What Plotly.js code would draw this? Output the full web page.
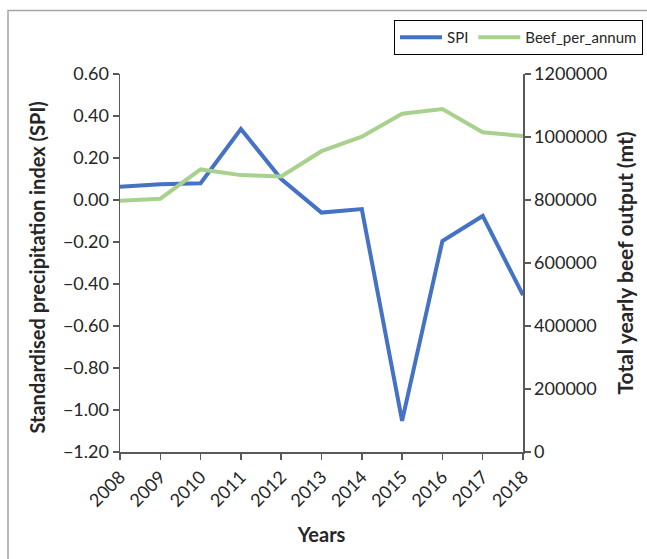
<!DOCTYPE html>
<html>
<head>
<meta charset="utf-8">
<script src="https://cdn.plot.ly/plotly-3.0.1.min.js"></script>
<style>
  html, body { margin: 0; padding: 0; background: #fff; }
  #chart { width: 647px; height: 559px; }
</style>
</head>
<body>
<div id="chart"></div>
<script>
const years = [2008, 2009, 2010, 2011, 2012, 2013, 2014, 2015, 2016, 2017, 2018];
const spi = [0.063, 0.075, 0.08, 0.338, 0.10, -0.06, -0.043, -1.052, -0.195, -0.076, -0.453];
const beefPerAnnum = [798000, 804000, 897000, 879000, 875000, 955000, 1001000, 1074000, 1089000, 1015000, 1003000];
const spiTicks = [0.6, 0.4, 0.2, 0, -0.2, -0.4, -0.6, -0.8, -1.0, -1.2];
const beefTicks = [0, 200000, 400000, 600000, 800000, 1000000, 1200000];

const FONT = 'Lato, "Open Sans", sans-serif';
const AX = '#595959';
const TXT = '#262626';

const traces = [
  {
    x: years, y: spi, name: 'SPI', type: 'scatter', mode: 'lines',
    line: { color: '#4472C4', width: 4 }, yaxis: 'y', cliponaxis: true
  },
  {
    x: years, y: beefPerAnnum, name: 'Beef_per_annum', type: 'scatter', mode: 'lines',
    line: { color: '#A9D18E', width: 4 }, yaxis: 'y2', cliponaxis: true
  }
];

const L = 120, R = 124, T = 74, B = 107;
const W = 647 - L - R, H = 559 - T - B;
const px = v => (v - L) / W;
const py = v => (559 - B - v) / H;

const layout = {
  width: 647, height: 559,
  margin: { l: L, r: R, t: T, b: B },
  paper_bgcolor: '#fff', plot_bgcolor: '#fff',
  font: { family: FONT, color: TXT, size: 18 },
  showlegend: true,
  legend: {
    orientation: 'h', xref: 'container', yref: 'container',
    x: 643 / 647, y: 1 - 20 / 559, xanchor: 'right', yanchor: 'top',
    bordercolor: '#000', borderwidth: 1, bgcolor: '#fff', itemwidth: 42,
    font: { family: FONT, size: 15, color: TXT }, traceorder: 'normal'
  },
  xaxis: {
    range: [2008, 2018], tickmode: 'array', tickvals: years, ticktext: years.map(String),
    tickangle: -45, ticks: 'outside', ticklen: 6, tickcolor: AX, tickwidth: 1.5,
    showline: true, linecolor: AX, linewidth: 1.5, showgrid: false, zeroline: false,
    tickfont: { family: FONT, size: 18, color: TXT },
    title: { text: '<b>Years</b>', font: { family: FONT, size: 20, color: TXT }, standoff: 18 }
  },
  yaxis: {
    range: [-1.2, 0.6], tickmode: 'array', tickvals: spiTicks, tickformat: '.2f',
    ticks: 'outside', ticklen: 6, tickcolor: AX, tickwidth: 1.5,
    showline: true, linecolor: AX, linewidth: 1.5, showgrid: false, zeroline: false,
    tickfont: { family: FONT, size: 18, color: TXT }
  },
  yaxis2: {
    overlaying: 'y', side: 'right', range: [0, 1200000], tickmode: 'array', tickvals: beefTicks, tickformat: 'd',
    ticks: 'outside', ticklen: 6, tickcolor: AX, tickwidth: 1.5,
    showline: true, linecolor: AX, linewidth: 1.5, showgrid: false, zeroline: false,
    tickfont: { family: FONT, size: 18, color: TXT },
    title: { text: '<b>Total yearly beef output (mt)</b>', font: { family: FONT, size: 21, color: TXT }, standoff: 12 }
  },
  annotations: [
    {
      text: '<b>Standardised precipitation index (SPI)</b>', textangle: -90,
      xref: 'paper', yref: 'paper', x: px(36.5), y: py(268), xanchor: 'center', yanchor: 'middle',
      showarrow: false, font: { family: FONT, size: 20, color: TXT }
    }
  ],
  shapes: [
    {
      type: 'rect', xref: 'paper', yref: 'paper', layer: 'below',
      x0: px(8), x1: px(660), y0: py(575), y1: py(10.5),
      line: { color: '#A6A6A6', width: 1.5 }, fillcolor: 'rgba(0,0,0,0)'
    }
  ]
};

Plotly.newPlot('chart', traces, layout, { displayModeBar: false, staticPlot: true });
</script>
</body>
</html>
